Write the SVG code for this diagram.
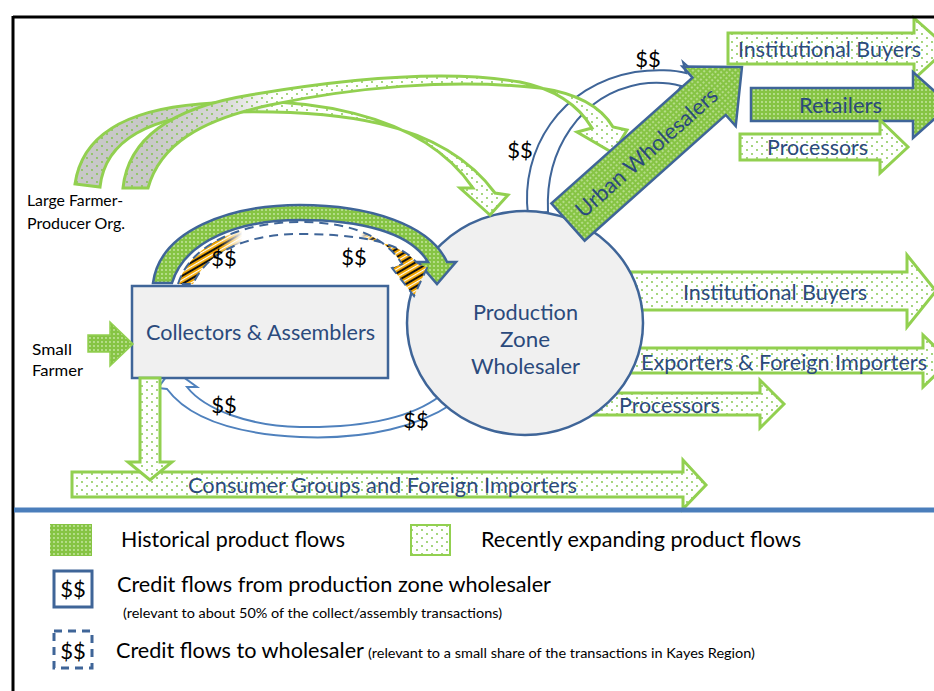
<svg xmlns="http://www.w3.org/2000/svg" width="934" height="691" viewBox="0 0 934 691">
<style>
.lbl{font-family:Lato,"Open Sans","Liberation Sans",sans-serif;font-size:22px;fill:#2b4a7c;text-anchor:middle}
.blk{font-family:Lato,"Open Sans","Liberation Sans",sans-serif;fill:#000}
.dol{font-family:Lato,"Open Sans","Liberation Sans",sans-serif;font-size:22px;fill:#000;text-anchor:middle}
.rec{fill:url(#dots);stroke:#92d050;stroke-width:3;stroke-linejoin:miter}
.his{fill:url(#hist);stroke:#3f6598;stroke-width:2.5;stroke-linejoin:miter}
.cred{fill:#fff;stroke:#3f6598;stroke-width:2}
</style>
<defs>
<pattern id="hist" width="4" height="4" patternUnits="userSpaceOnUse"><rect width="4" height="4" fill="#86c444"/><circle cx="2" cy="2" r="0.9" fill="#c9e8a6"/></pattern>
<pattern id="dots" width="10" height="8" patternUnits="userSpaceOnUse"><rect width="10" height="8" fill="#fff"/><circle cx="2" cy="2" r="0.9" fill="#7cc242"/><circle cx="7" cy="6" r="0.9" fill="#7cc242"/></pattern>
<pattern id="dotsT" width="10" height="8" patternUnits="userSpaceOnUse"><circle cx="2" cy="2" r="0.9" fill="#7cc242"/><circle cx="7" cy="6" r="0.9" fill="#7cc242"/></pattern>
<pattern id="tiger" width="7" height="7" patternUnits="userSpaceOnUse" patternTransform="rotate(60)"><rect width="7" height="7" fill="#f0a500"/><rect width="2" height="7" fill="#111"/><rect x="4" width="1.2" height="7" fill="#fff"/></pattern>
<linearGradient id="grayFade" gradientUnits="userSpaceOnUse" x1="150" y1="0" x2="275" y2="0"><stop offset="0" stop-color="#c8c8c8"/><stop offset="0.6" stop-color="#d8d8d8"/><stop offset="1" stop-color="#fff"/></linearGradient>
<linearGradient id="tgGrad" gradientUnits="userSpaceOnUse" x1="175" y1="0" x2="425" y2="0"><stop offset="0" stop-color="#fff"/><stop offset="0.18" stop-color="#fff"/><stop offset="0.27" stop-color="#000"/><stop offset="0.74" stop-color="#000"/><stop offset="0.8" stop-color="#fff"/><stop offset="1" stop-color="#fff"/></linearGradient>
<mask id="tgMask" maskUnits="userSpaceOnUse" x="0" y="0" width="934" height="691"><rect x="150" y="200" width="300" height="110" fill="url(#tgGrad)"/></mask>
<path id="arrL" d="M75,184 C82,135 125,110 200,104 C300,95 420,110 473,188 L460,188 L490,215 L508,195 L495,193 C440,118 330,110 230,112 C150,115 105,140 100,187 Z"/>
<path id="arrR" d="M123,188 C128,140 170,108 250,95 C350,78 450,70 520,82 C560,90 580,108 592,128 L577,132 L613,153 L627,130 L613,127 C600,105 575,93 540,88 C450,78 350,88 270,105 C200,120 160,145 148,188 Z"/>
<path id="arrT" d="M178,284 C190,245 240,222 300,222 C350,222 385,236 402,264 L392,268 L414,296 L427,268 L416,262 C398,240 350,234 300,234 C250,234 208,250 193,284 Z"/>
</defs>
<rect width="934" height="691" fill="#fff"/>

<g id="connectors">
<!-- credit loop wholesaler -> urban (behind circle) -->
<path class="cred" d="M528,215 C520,150 560,85 635,72 C655,69 675,70 686,73 L683,62 L702,79 L677,93 L681,86 C670,83 655,82 640,84 C580,95 545,150 548,212 Z"/>
<!-- credit wholesaler -> collectors -->
<path fill="#fff" stroke="#4f81bd" stroke-width="2" d="M452,404 C420,425 370,440 300,437 C240,434 190,420 167,389 L158,388 L172,369 L197,387 L187,387 C205,410 250,426 300,427 C370,428 415,415 440,396 Z"/>
<!-- right side recently flows (behind circle) -->
<path class="rec" d="M600,272 H907 V255 L936,291 L907,327 V310 H600 Z"/>
<path class="rec" d="M600,348 H923 V335 L950,361 L923,387 V373 H600 Z"/>
<path class="rec" d="M567,393 H760 V380 L784,404 L760,428 V415 H567 Z"/>
</g>

<g id="wholesaler">
<ellipse cx="525" cy="323" rx="118" ry="112" fill="#f0f0f0" stroke="#3f6598" stroke-width="2.5"/>
<text class="lbl" x="525.5" y="320" textLength="105" lengthAdjust="spacingAndGlyphs">Production</text>
<text class="lbl" x="525" y="347" textLength="50" lengthAdjust="spacingAndGlyphs">Zone</text>
<text class="lbl" x="525.5" y="374" textLength="109" lengthAdjust="spacingAndGlyphs">Wholesaler</text>
</g>

<g id="collectors">
<rect x="132" y="286" width="256" height="92" fill="#f0f0f0" stroke="#3f6598" stroke-width="2.5"/>
<text class="lbl" x="260.5" y="340" textLength="229" lengthAdjust="spacingAndGlyphs">Collectors &amp; Assemblers</text>
</g>

<g id="flows">
<!-- large farmer arrows -->
<use href="#arrL" fill="url(#grayFade)"/>
<use href="#arrL" fill="url(#dotsT)" stroke="#92d050" stroke-width="3"/>
<use href="#arrR" fill="url(#grayFade)"/>
<use href="#arrR" fill="url(#dotsT)" stroke="#92d050" stroke-width="3"/>
<!-- collectors -> wholesaler historical -->
<path class="his" d="M153,283 C160,230 230,205 300,205 C370,205 430,225 447,262 L456,262 L437,284 L418,262 L428,262 C410,232 360,220 300,220 C240,220 185,240 172,283 Z"/>
<!-- credit to wholesaler (dashed, tiger) -->
<use href="#arrT" fill="#fff"/>
<use href="#arrT" fill="url(#tiger)" mask="url(#tgMask)"/>
<use href="#arrT" fill="none" stroke="#3f6598" stroke-width="2" stroke-dasharray="9,6"/>
<!-- urban wholesalers -->
<g id="urban" transform="translate(568,222) rotate(-41.7)">
<path class="his" d="M0,-25 H189 V-40 L233,0 L189,40 V25 H0 Z"/>
<text class="lbl" x="105" y="8" textLength="182" lengthAdjust="spacingAndGlyphs">Urban Wholesalers</text>
</g>
<!-- small farmer -->
<path fill="url(#hist)" stroke="#92d050" stroke-width="1.5" d="M88,335 H110 V322 L133,344 L110,366 V352 H88 Z"/>
<!-- collectors down to consumer -->
<path class="rec" d="M72,472 H683 V460 L706,485 L683,509 V497 H72 Z"/>
<path class="rec" d="M140,378 H160 V462 H172 L150,480 L128,462 H140 Z"/>
</g>

<g id="inst-top"><path class="rec" d="M728,33 H914 V18 L948,48 L914,79 V64 H728 Z"/>
<text class="lbl" x="829.5" y="57" textLength="183" lengthAdjust="spacingAndGlyphs">Institutional Buyers</text></g>
<g id="retailers"><path class="his" d="M751,88 H913 V72 L950,105 L913,138 V121 H751 Z"/>
<text class="lbl" x="840.5" y="113" textLength="83" lengthAdjust="spacingAndGlyphs">Retailers</text></g>
<g id="proc-top"><path class="rec" d="M740,134 H880 V120 L908,147 L880,173 V160 H740 Z"/>
<text class="lbl" x="817.5" y="155" textLength="101" lengthAdjust="spacingAndGlyphs">Processors</text></g>
<g id="inst-mid"><text class="lbl" x="775" y="300" textLength="184" lengthAdjust="spacingAndGlyphs">Institutional Buyers</text></g>
<g id="exporters"><text class="lbl" x="784" y="370" textLength="286" lengthAdjust="spacingAndGlyphs">Exporters &amp; Foreign Importers</text></g>
<g id="proc-low"><text class="lbl" x="669.5" y="413" textLength="101" lengthAdjust="spacingAndGlyphs">Processors</text></g>
<g id="consumer"><text class="lbl" x="382.5" y="493" textLength="389" lengthAdjust="spacingAndGlyphs">Consumer Groups and Foreign Importers</text></g>

<g id="large-farmer">
<text class="blk" x="27" y="206" font-size="15" textLength="96" lengthAdjust="spacingAndGlyphs">Large Farmer-</text>
<text class="blk" x="27" y="229" font-size="15" textLength="98" lengthAdjust="spacingAndGlyphs">Producer Org.</text>
</g>
<g id="small-farmer">
<text class="blk" x="32" y="355" font-size="15" textLength="40" lengthAdjust="spacingAndGlyphs">Small</text>
<text class="blk" x="32" y="376" font-size="15" textLength="51" lengthAdjust="spacingAndGlyphs">Farmer</text>
</g>

<g id="credit-labels">
<text class="dol" x="224" y="266">$$</text>
<text class="dol" x="354" y="265">$$</text>
<text class="dol" x="224" y="413">$$</text>
<text class="dol" x="416" y="428">$$</text>
<text class="dol" x="520" y="158">$$</text>
<text class="dol" x="648" y="67">$$</text>
</g>

<g id="frame">
<line x1="13" y1="17" x2="934" y2="17" stroke="#000" stroke-width="3"/>
<line x1="13" y1="16" x2="13" y2="691" stroke="#000" stroke-width="3"/>
<line x1="14" y1="510" x2="934" y2="510" stroke="#4a7ebb" stroke-width="5"/>
</g>

<g id="legend">
<rect x="50" y="524" width="42" height="32" fill="url(#hist)"/>
<text class="blk" x="121" y="547" font-size="22" textLength="224" lengthAdjust="spacingAndGlyphs">Historical product flows</text>
<rect x="411" y="525" width="39" height="30" fill="url(#dots)" stroke="#92d050" stroke-width="2"/>
<text class="blk" x="481" y="547" font-size="22" textLength="320" lengthAdjust="spacingAndGlyphs">Recently expanding product flows</text>
<rect x="54" y="571" width="38" height="36" fill="#fff" stroke="#3f6598" stroke-width="3"/>
<text class="dol" x="73" y="597">$$</text>
<text class="blk" x="117" y="592" font-size="22" textLength="434" lengthAdjust="spacingAndGlyphs">Credit flows from production zone wholesaler</text>
<text class="blk" x="123" y="618" font-size="13.5" textLength="379" lengthAdjust="spacingAndGlyphs">(relevant to about 50% of the collect/assembly transactions)</text>
<rect x="54" y="631" width="38" height="37" fill="none" stroke="#3f6598" stroke-width="3" stroke-dasharray="8,6"/>
<text class="dol" x="73" y="659">$$</text>
<text class="blk" x="116" y="658" font-size="22" textLength="248" lengthAdjust="spacingAndGlyphs">Credit flows to wholesaler</text>
<text class="blk" x="368" y="658" font-size="13.5" textLength="387" lengthAdjust="spacingAndGlyphs">(relevant to a small share of the transactions in Kayes Region)</text>
</g>
</svg>
